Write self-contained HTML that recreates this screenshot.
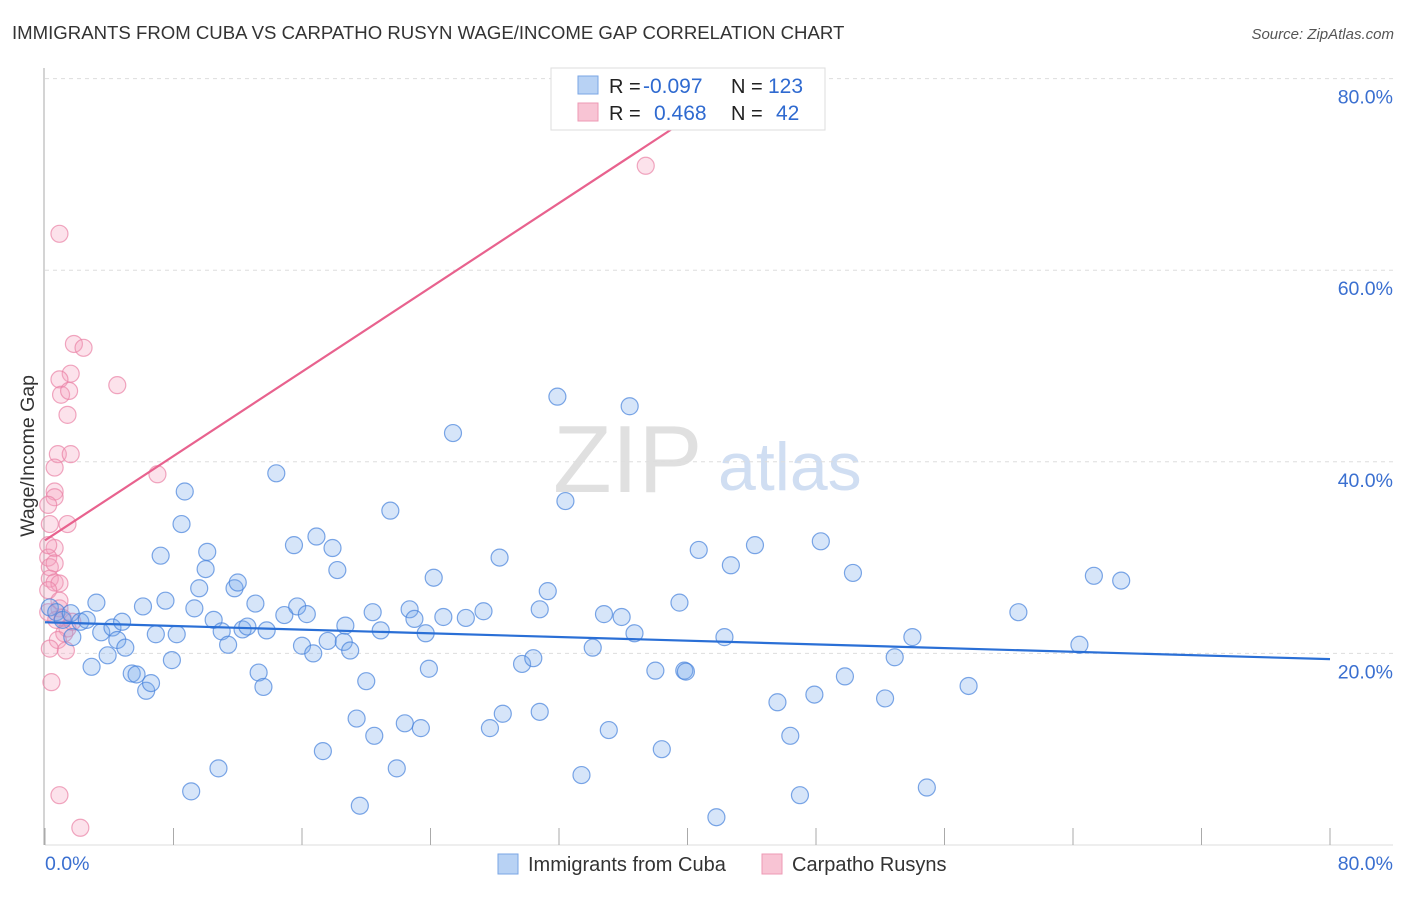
<!DOCTYPE html>
<html><head><meta charset="utf-8"><style>
body{margin:0;background:#fff;font-family:"Liberation Sans",sans-serif;}
svg text{font-family:"Liberation Sans",sans-serif;}
</style></head><body>
<svg id="chart" width="1406" height="892" viewBox="0 0 1406 892" xmlns="http://www.w3.org/2000/svg">
<text x="12" y="39" font-size="18.6" fill="#333">IMMIGRANTS FROM CUBA VS CARPATHO RUSYN WAGE/INCOME GAP CORRELATION CHART</text>
<text x="1394" y="39" font-size="15" fill="#555" text-anchor="end" font-style="italic">Source: ZipAtlas.com</text>
<text x="553" y="492" font-size="96" fill="#d4d4d4" font-family="Liberation Serif" opacity="0.7">ZIP</text>
<text x="718" y="490" font-size="68" fill="#c5d6f0" opacity="0.8">atlas</text>
<g id="grid"></g>
<g id="axes"></g>
<g id="pts"></g>
<g id="trends"></g>
<text transform="translate(34,456) rotate(-90)" font-size="19.5" fill="#333" text-anchor="middle">Wage/Income Gap</text>
<g>
<rect x="551" y="68" width="274" height="62" fill="#fff" stroke="#ddd"/>
<rect x="578" y="76" width="20" height="18" fill="#b8d2f4" stroke="#7aa6e4"/>
<rect x="578" y="103" width="20" height="18" fill="#f8c4d4" stroke="#ee9ab4"/>
<text x="609" y="93" font-size="20" fill="#222">R =</text>
<text x="643" y="93" font-size="21" fill="#2f6ad0">-0.097</text>
<text x="731" y="93" font-size="20" fill="#222">N =</text>
<text x="768" y="93" font-size="21" fill="#2f6ad0">123</text>
<text x="609" y="120" font-size="20" fill="#222">R =</text>
<text x="654" y="120" font-size="21" fill="#2f6ad0">0.468</text>
<text x="731" y="120" font-size="20" fill="#222">N =</text>
<text x="776" y="120" font-size="21" fill="#2f6ad0">42</text>
</g>
<g>
<rect x="498" y="854" width="20" height="20" fill="#b8d2f4" stroke="#7aa6e4"/>
<text x="528" y="871" font-size="20" fill="#333">Immigrants from Cuba</text>
<rect x="762" y="854" width="20" height="20" fill="#f8c4d4" stroke="#ee9ab4"/>
<text x="792" y="871" font-size="20" fill="#333">Carpatho Rusyns</text>
</g>
</svg>
<script>
const yTicks=[20,40,60,80];
const yTickLabels=["20.0%","40.0%","60.0%","80.0%"];
const xTickVals=[0,8,16,24,32,40,48,56,64,72,80];
const blueX=[0.3,0.7,1.1,1.6,1.7,2.2,2.6,2.9,3.2,3.5,3.9,4.2,4.5,4.8,5.0,5.4,5.7,6.1,6.3,6.6,6.9,7.2,7.5,7.9,8.2,8.5,8.7,9.1,9.3,9.6,10.0,10.1,10.5,10.8,11.0,11.4,11.8,12.0,12.3,12.6,13.1,13.3,13.6,13.8,14.4,14.9,15.5,15.7,16.0,16.3,16.7,16.9,17.3,17.6,17.9,18.2,18.6,18.7,19.0,19.4,19.6,20.0,20.4,20.5,20.9,21.5,21.9,22.4,22.7,23.0,23.4,23.7,23.9,24.2,24.8,25.4,26.2,27.3,27.7,28.3,28.5,29.7,30.4,30.8,30.8,31.3,31.9,32.4,33.4,34.1,34.8,35.1,35.9,36.4,36.7,38.0,38.4,39.8,39.9,39.5,40.7,41.8,42.3,42.7,44.2,45.6,46.4,47.0,47.9,48.3,49.8,50.3,52.3,52.9,54.0,54.9,57.5,60.6,64.4,65.3,67.0];
const blueY=[24.8,24.3,23.5,24.2,21.7,23.3,23.5,18.6,25.3,22.2,19.8,22.7,21.4,23.3,20.6,17.9,17.8,24.9,16.1,16.9,22.0,30.2,25.5,19.3,22.0,33.5,36.9,5.6,24.7,26.8,28.8,30.6,23.5,8.0,22.3,20.9,26.8,27.4,22.5,22.8,25.2,18.0,16.5,22.4,38.8,24.0,31.3,24.9,20.8,24.1,20.0,32.2,9.8,21.3,31.0,28.7,21.2,22.9,20.3,13.2,4.1,17.1,24.3,11.4,22.4,34.9,8.0,12.7,24.6,23.6,12.2,22.1,18.4,27.9,23.8,43.0,23.7,24.4,12.2,30.0,13.7,18.9,19.5,13.9,24.6,26.5,46.8,35.9,7.3,20.6,24.1,12.0,23.8,45.8,22.1,18.2,10.0,18.2,18.1,25.3,30.8,2.9,21.7,29.2,31.3,14.9,11.4,5.2,15.7,31.7,17.6,28.4,15.3,19.6,21.7,6.0,16.6,24.3,20.9,28.1,27.6];
const pinkX=[0.9,37.4,1.8,2.4,4.5,1.6,0.9,1.0,1.5,1.4,0.8,1.6,0.6,7.0,0.6,0.6,0.2,1.4,0.3,0.6,0.2,0.3,0.6,0.3,0.6,0.9,0.2,0.9,1.1,1.4,1.2,0.8,0.3,1.3,0.4,0.9,2.2,0.2,0.7,1.7,0.2,0.9];
const pinkY=[63.8,70.9,52.3,51.9,48.0,49.2,48.6,47.0,47.4,44.9,40.8,40.8,39.4,38.7,36.9,36.3,35.5,33.5,33.5,31.0,30.0,29.0,29.4,27.8,27.4,27.3,26.6,24.7,23.7,22.6,22.1,21.4,20.5,20.3,17.0,5.2,1.8,24.3,23.5,23.3,31.3,25.5];
const blueTrendX=[0,80], blueTrendY=[23.25,19.4];
const pinkTrendX=[0,39], pinkTrendY=[31.8,74.7];

const NS="http://www.w3.org/2000/svg";
const X0=45,X1=1330,Y0=845,Y1=78.6;
const sx=v=>X0+(X1-X0)*v/80;
const sy=v=>Y0-(Y0-Y1)*v/80;
function mk(tag,attrs,parent){const e=document.createElementNS(NS,tag);for(const k in attrs)e.setAttribute(k,attrs[k]);parent.appendChild(e);return e;}
const grid=document.getElementById('grid'),axes=document.getElementById('axes'),pts=document.getElementById('pts'),tr=document.getElementById('trends');
yTicks.forEach((t,i)=>{
  const l=mk('line',{x1:X0,x2:1393,y1:sy(t),y2:sy(t),stroke:'#ddd','stroke-dasharray':'4,4'},grid);
  
  
  const tx=mk('text',{x:1393,y:sy(t)+25,'font-size':19.5,fill:'#3a6fd0','text-anchor':'end'},axes);
  tx.textContent=yTickLabels[i];
  
  
});
const ya=mk('line',{x1:44,x2:44,y1:68,y2:Y0,stroke:'#aaa'},axes);


const xa=mk('line',{x1:X0,x2:1393,y1:Y0,y2:Y0,stroke:'#ddd'},axes);


xTickVals.forEach(v=>{
  const t=mk('line',{x1:sx(v),x2:sx(v),y1:828,y2:Y0,stroke:'#aaa'},axes);
  
  
});
const xl0=mk('text',{x:45,y:870,'font-size':19.5,fill:'#3a6fd0'},axes);xl0.textContent='0.0%';


const xl1=mk('text',{x:1393,y:870,'font-size':19.5,fill:'#3a6fd0','text-anchor':'end'},axes);xl1.textContent='80.0%';


pinkX.forEach((v,i)=>{
  const c=mk('circle',{cx:sx(v),cy:sy(pinkY[i]),r:8.5,fill:'rgba(244,160,188,0.3)',stroke:'rgba(234,130,165,0.7)','stroke-width':1.2},pts);
  
  
});
blueX.forEach((v,i)=>{
  const c=mk('circle',{cx:sx(v),cy:sy(blueY[i]),r:8.5,fill:'rgba(120,170,235,0.3)',stroke:'rgba(70,130,220,0.7)','stroke-width':1.2},pts);
  
  
});
const bl=mk('line',{x1:sx(blueTrendX[0]),y1:sy(blueTrendY[0]),x2:sx(blueTrendX[1]),y2:sy(blueTrendY[1]),stroke:'#2a6fd6','stroke-width':2.2},tr);


const pl=mk('line',{x1:sx(pinkTrendX[0]),y1:sy(pinkTrendY[0]),x2:sx(pinkTrendX[1]),y2:sy(pinkTrendY[1]),stroke:'#e8628e','stroke-width':2.2},tr);


</script>
</body></html>
